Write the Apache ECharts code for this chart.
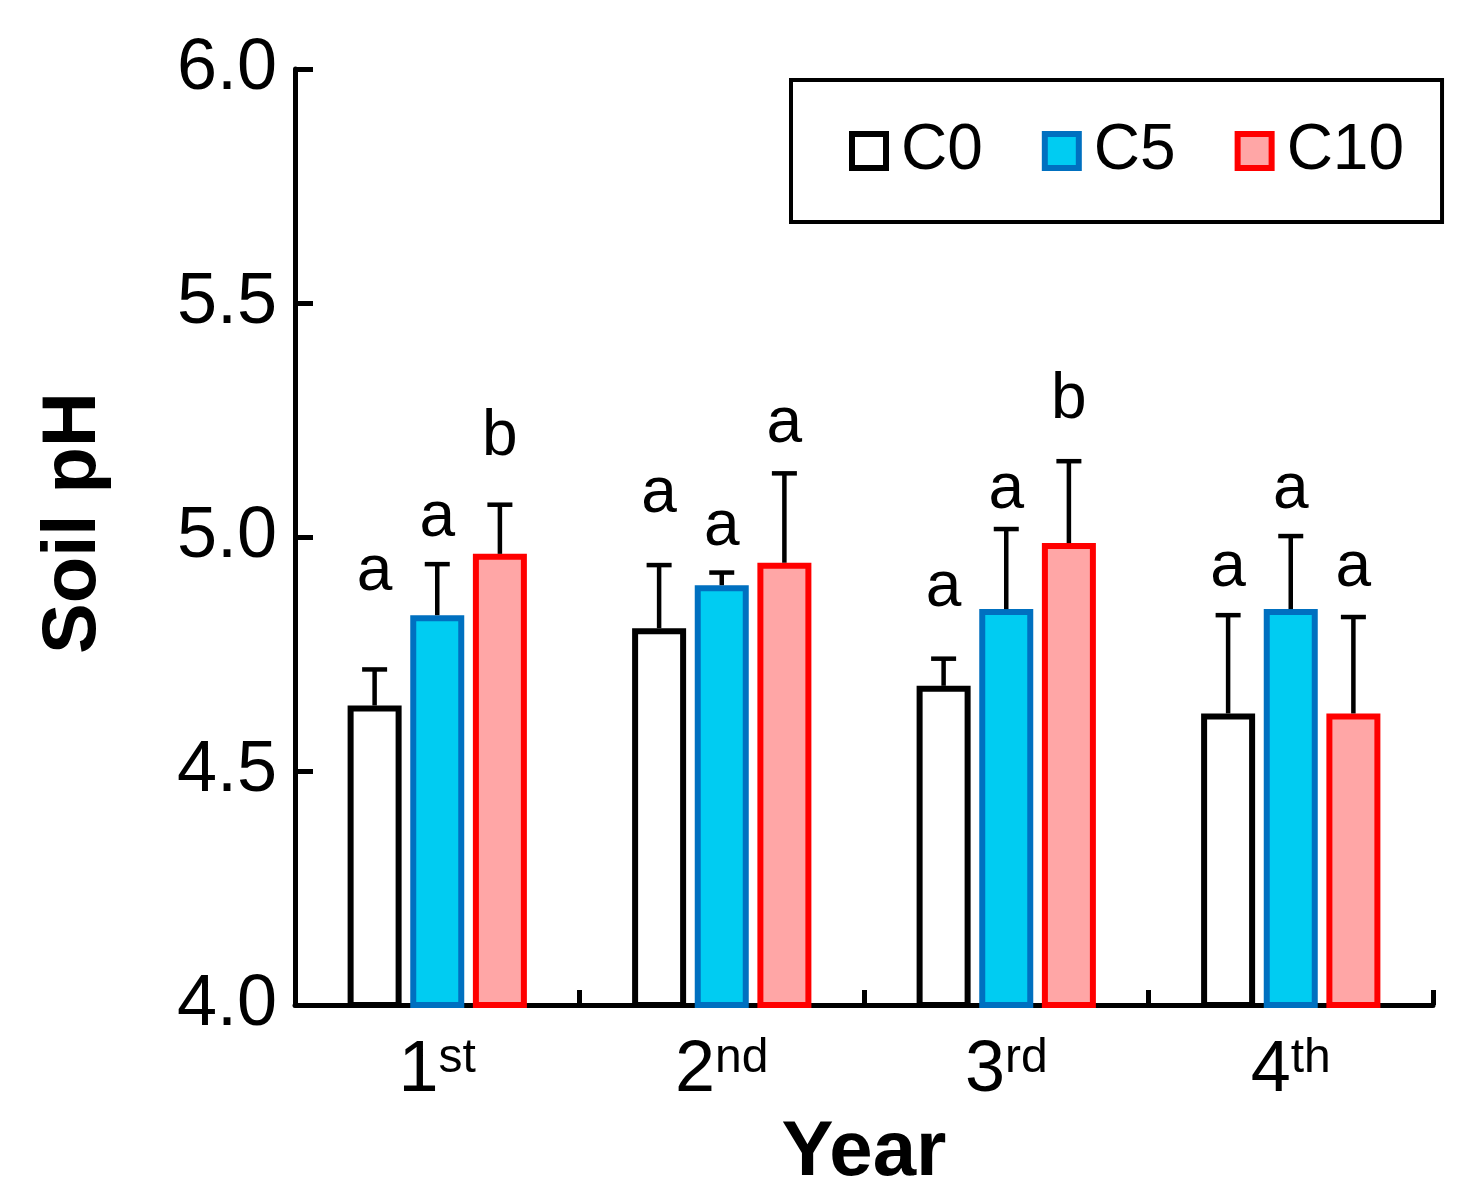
<!DOCTYPE html>
<html>
<head>
<meta charset="utf-8">
<script src="https://cdn.jsdelivr.net/npm/echarts@6.0.0/dist/echarts.min.js"></script>
<style>
  html, body { margin: 0; padding: 0; background: #fff; }
  #main { width: 1480px; height: 1200px; }
</style>
</head>
<body>
<div id="main"></div>
<script>
// 数据
var years = ['1st', '2nd', '3rd', '4th'];
var yTicks = [4.0, 4.5, 5.0, 5.5, 6.0];

var c0 = [4.640, 4.805, 4.682, 4.623];
var c5 = [4.833, 4.897, 4.846, 4.846];
var c10 = [4.964, 4.945, 4.987, 4.623];

// upper error bar (SD)
var c0Sd = [0.077, 0.135, 0.058, 0.210];
var c5Sd = [0.109, 0.027, 0.171, 0.156];
var c10Sd = [0.105, 0.191, 0.175, 0.206];

// significance letters and where they sit (value of letter bottom)
var c0Letters = ['a', 'a', 'a', 'a'];
var c5Letters = ['a', 'a', 'a', 'a'];
var c10Letters = ['b', 'a', 'b', 'a'];
var c0LetterY = [4.880, 5.046, 4.845, 4.889];
var c5LetterY = [4.994, 4.976, 5.055, 5.055];
var c10LetterY = [5.167, 5.196, 5.247, 4.889];

(function () {
  var FONT = 'Liberation Sans, Arial, sans-serif';
  var barW = 54;
  var gapRatio = 0.16;
  var barStep = barW * (1 + gapRatio);
  var textShift = 11;

  var groups = [
    { name: 'C0', mean: c0, sd: c0Sd, letters: c0Letters, ly: c0LetterY, fill: '#ffffff', border: '#000000' },
    { name: 'C5', mean: c5, sd: c5Sd, letters: c5Letters, ly: c5LetterY, fill: '#00ccf2', border: '#0070c0' },
    { name: 'C10', mean: c10, sd: c10Sd, letters: c10Letters, ly: c10LetterY, fill: '#ffa6a6', border: '#ff0000' }
  ];

  var myChart = echarts.init(document.getElementById('main'));
  var series = [];

  // 柱子
  groups.forEach(function (g) {
    series.push({
      name: g.name,
      type: 'bar',
      data: g.mean,
      barWidth: barW,
      barGap: (gapRatio * 100) + '%',
      itemStyle: { color: g.fill, borderColor: g.border, borderWidth: 6 }
    });
  });

  // 误差线 + 字母
  groups.forEach(function (g, idx) {
    series.push({
      name: 'err' + g.name,
      type: 'custom',
      z: 5,
      data: years.map(function (y, j) {
        return [j, g.mean[j], g.mean[j] + g.sd[j], g.ly[j]];
      }),
      renderItem: function (params, api) {
        var j = api.value(0);
        var base = api.coord([j, api.value(1)]);
        var top = api.coord([j, api.value(2)]);
        var lab = api.coord([j, api.value(3)]);
        var x = base[0] + (idx - 1) * barStep;
        return {
          type: 'group',
          children: [
            { type: 'line', shape: { x1: x, y1: base[1], x2: x, y2: top[1] },
              style: { stroke: '#000', lineWidth: 4.5 } },
            { type: 'line', shape: { x1: x - 12.5, y1: top[1], x2: x + 12.5, y2: top[1] },
              style: { stroke: '#000', lineWidth: 4.5 } },
            { type: 'text', x: x, y: lab[1] + textShift,
              style: { text: g.letters[params.dataIndex], fontSize: 64, fontFamily: FONT,
                       fill: '#000', align: 'center', verticalAlign: 'bottom' } }
          ]
        };
      }
    });
  });

  var option = {
    animation: false,
    backgroundColor: '#fff',
    grid: { left: 295, right: 47, top: 69, bottom: 195 },
    legend: {
      data: ['C0', 'C5', 'C10'],
      left: 791,
      top: 80,
      padding: [39, 38, 39, 58],
      borderColor: '#000',
      borderWidth: 4,
      icon: 'rect',
      itemWidth: 34,
      itemHeight: 34,
      itemGap: 59,
      itemStyle: { borderWidth: 6 },
      textStyle: { fontSize: 64, color: '#000', fontFamily: FONT, padding: [0, 0, 0, 10] }
    },
    xAxis: {
      type: 'category',
      data: years,
      name: 'Year',
      nameLocation: 'middle',
      nameGap: 109,
      nameTextStyle: { fontSize: 78, fontWeight: 'bold', color: '#000', fontFamily: FONT },
      axisLine: { lineStyle: { color: '#000', width: 5 } },
      axisTick: { show: true, inside: true, length: 15, lineStyle: { color: '#000', width: 5 } },
      axisLabel: {
        margin: 30,
        color: '#000',
        formatter: function (v) {
          return '{n|' + v.charAt(0) + '}{s|' + v.slice(1) + '}';
        },
        rich: {
          n: { fontSize: 72, fontFamily: FONT, color: '#000' },
          s: { fontSize: 48, fontFamily: FONT, color: '#000', verticalAlign: 'top' }
        }
      }
    },
    yAxis: {
      type: 'value',
      min: yTicks[0],
      max: yTicks[yTicks.length - 1],
      interval: yTicks[1] - yTicks[0],
      name: 'Soil pH',
      nameLocation: 'middle',
      nameGap: 183,
      nameTextStyle: { fontSize: 76, fontWeight: 'bold', color: '#000', fontFamily: FONT,
                       padding: [0, 0, 0, 28] },
      axisLine: { show: true, lineStyle: { color: '#000', width: 5 } },
      axisTick: { show: true, inside: true, length: 18, lineStyle: { color: '#000', width: 5 } },
      splitLine: { show: false },
      axisLabel: {
        margin: 18,
        fontSize: 72,
        color: '#000',
        fontFamily: FONT,
        formatter: function (v) { return v.toFixed(1); }
      }
    },
    series: series
  };

  myChart.setOption(option);
  window.addEventListener('resize', function () {
    myChart.resize();
  });
})();
</script>
</body>
</html>
